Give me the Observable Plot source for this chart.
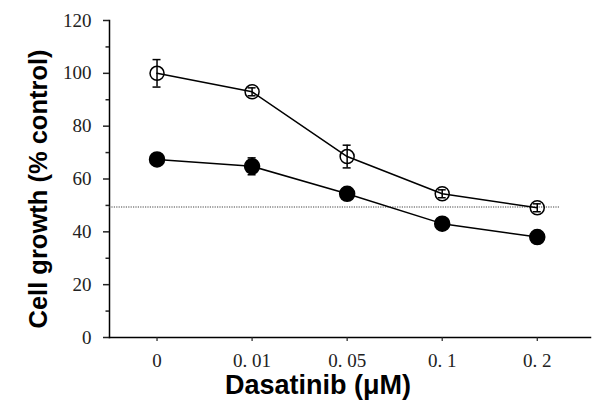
<!DOCTYPE html>
<html><head><meta charset="utf-8">
<script src="https://cdn.jsdelivr.net/npm/d3@7"></script>
<script src="https://cdn.jsdelivr.net/npm/@observablehq/plot@0.6"></script>
<style>body{margin:0;background:#fff}</style>
</head><body><div id="chart"></div>
<script>
const xLabels = ["0", "0. 01", "0. 05", "0. 1", "0. 2"];
const openMean = [100, 93, 68.5, 54.4, 49.1];
const openErr  = [5.2, 1.5, 4.3, 1.5, 1.5];
const filledMean = [67.4, 64.8, 54.4, 43.1, 38.0];
const filledErr  = [0.8, 3.2, 2.0, 0.8, 0.8];
const halfLine = [49.4];
const yTicks = [0, 20, 40, 60, 80, 100, 120];
const yMinor = [10, 30, 50, 70, 90, 110];

const idx = xLabels.map((_, i) => i);
const open = idx.map(i => ({i, y: openMean[i], e: openErr[i]}));
const filled = idx.map(i => ({i, y: filledMean[i], e: filledErr[i]}));
const cap = 0.042;
const serif = "'Liberation Serif', 'DejaVu Serif', serif";
const sans = "'Liberation Sans', Arial, sans-serif";

const errMarks = (data) => [
  Plot.ruleX(data, {x: "i", y1: d => d.y - d.e, y2: d => d.y + d.e, stroke: "black", strokeWidth: 1.5}),
  Plot.ruleY(data, {y: d => d.y + d.e, x1: d => d.i - cap, x2: d => d.i + cap, stroke: "black", strokeWidth: 1.5}),
  Plot.ruleY(data, {y: d => d.y - d.e, x1: d => d.i - cap, x2: d => d.i + cap, stroke: "black", strokeWidth: 1.5})
];

const chart = Plot.plot({
  width: 600, height: 415,
  marginLeft: 109, marginRight: 10, marginTop: 20, marginBottom: 78,
  style: {fontFamily: serif, fontSize: "19px", color: "#222", background: "white"},
  x: {domain: [-0.5, 4.56], axis: null},
  y: {domain: [0, 120], axis: null},
  marks: [
    Plot.frame({anchor: "left", stroke: "black", strokeWidth: 1.5}),
    Plot.frame({anchor: "bottom", stroke: "black", strokeWidth: 1.5}),
    Plot.axisY({ticks: yTicks, tickSize: 6, tickPadding: 12, label: null, strokeWidth: 1.5, fontSize: 19, fontFamily: serif, fill: "#222"}),
    Plot.axisY({ticks: yMinor, tickSize: 3.5, tickFormat: () => "", label: null, strokeWidth: 1.5}),
    Plot.axisX({ticks: idx, tickFormat: i => xLabels[i], tickSize: 4, tickPadding: 12, label: null, strokeWidth: 1.2, fontSize: 19, fontFamily: serif, fill: "#222"}),
    Plot.ruleY(halfLine, {x1: -0.5, x2: 4.24, stroke: "#444", strokeWidth: 1.2, strokeDasharray: "1.2,1.2"}),
    Plot.line(open, {x: "i", y: "y", stroke: "black", strokeWidth: 1.5}),
    Plot.line(filled, {x: "i", y: "y", stroke: "black", strokeWidth: 1.5}),
    ...errMarks(open),
    ...errMarks(filled),
    Plot.dot(open, {x: "i", y: "y", r: 7, fill: "none", stroke: "black", strokeWidth: 1.5}),
    Plot.dot(filled, {x: "i", y: "y", r: 7.5, fill: "black", stroke: "black"}),
    Plot.text(["Dasatinib (μM)"], {frameAnchor: "bottom", textAnchor: "middle", lineAnchor: "middle", dy: 48, dx: -32, fontFamily: sans, fontWeight: "bold", fontSize: 27, fill: "black"}),
    Plot.text(["Cell growth (% control)"], {frameAnchor: "left", textAnchor: "middle", lineAnchor: "middle", dx: -71, dy: 10, rotate: -90, fontFamily: sans, fontWeight: "bold", fontSize: 25.5, fill: "black"})
  ]
});
document.getElementById("chart").appendChild(chart);
</script>
</body></html>
